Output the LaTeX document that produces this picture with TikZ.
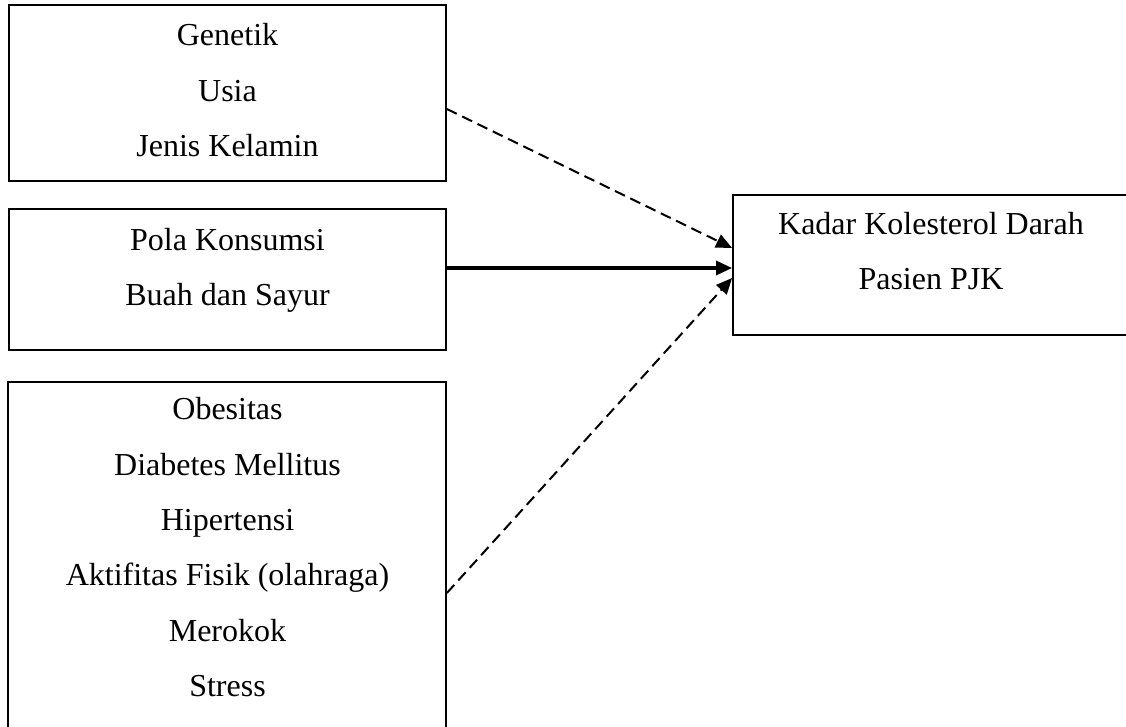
\documentclass[tikz,border=0pt]{standalone}
\usepackage{fontspec}
\setmainfont{Liberation Serif}
\usetikzlibrary{arrows.meta,positioning,calc}

\tikzset{
  kotak/.style={draw,line width=0.9pt,inner sep=0pt},
  teks/.style={align=center,font=\fontsize{16}{27.75}\selectfont,inner sep=0pt,anchor=base},
  putus/.style={line width=1pt,dash pattern=on 5.5pt off 3pt,-{Triangle[length=8pt,width=7pt]}},
  tegas/.style={line width=1.6pt,-{Triangle[length=8pt,width=7pt]}}
}

\begin{document}
\begin{tikzpicture}[x=0.5pt,y=-0.5pt]
        
        \useasboundingbox (0,0) rectangle (1126,727);
        \clip (0,0) rectangle (1126,727);
        
        %kotak faktor
        \node[kotak,minimum width=218.5pt,minimum height=88pt] (gen) at (227.5,93) {};
        \node[kotak,minimum width=218.5pt,minimum height=70.5pt] (pola) at (227.5,279.5) {};
        \node[kotak,minimum width=219pt,minimum height=189pt] (obes) at (227,571) {};
        \node[kotak,minimum width=213.5pt,minimum height=70pt] (kadar) at (946.5,265) {};
        
        %isi teks (base = baris terakhir)
        \node[teks] (tgen) at (227.5,157) {Genetik\\Usia\\Jenis Kelamin};
        \node[teks] (tpola) at (227.5,306) {Pola Konsumsi\\Buah dan Sayur};
        \node[teks] (tobes) at (227.5,697) {Obesitas\\Diabetes Mellitus\\Hipertensi\\Aktifitas Fisik (olahraga)\\Merokok\\Stress};
        \node[teks] (tkadar) at (931,290) {Kadar Kolesterol Darah\\Pasien PJK};
        
        %panah
        \draw[putus] ([yshift=-8pt]gen.east) -- ([yshift=8.5pt]kadar.west);
        \draw[tegas] ([yshift=5.75pt]pola.east) -- ([yshift=5.75pt]pola.east -| kadar.west);
        \draw[putus] ([yshift=-11pt]obes.east) -- ([yshift=-6.5pt]kadar.west);
        \end{tikzpicture}
\end{document}
